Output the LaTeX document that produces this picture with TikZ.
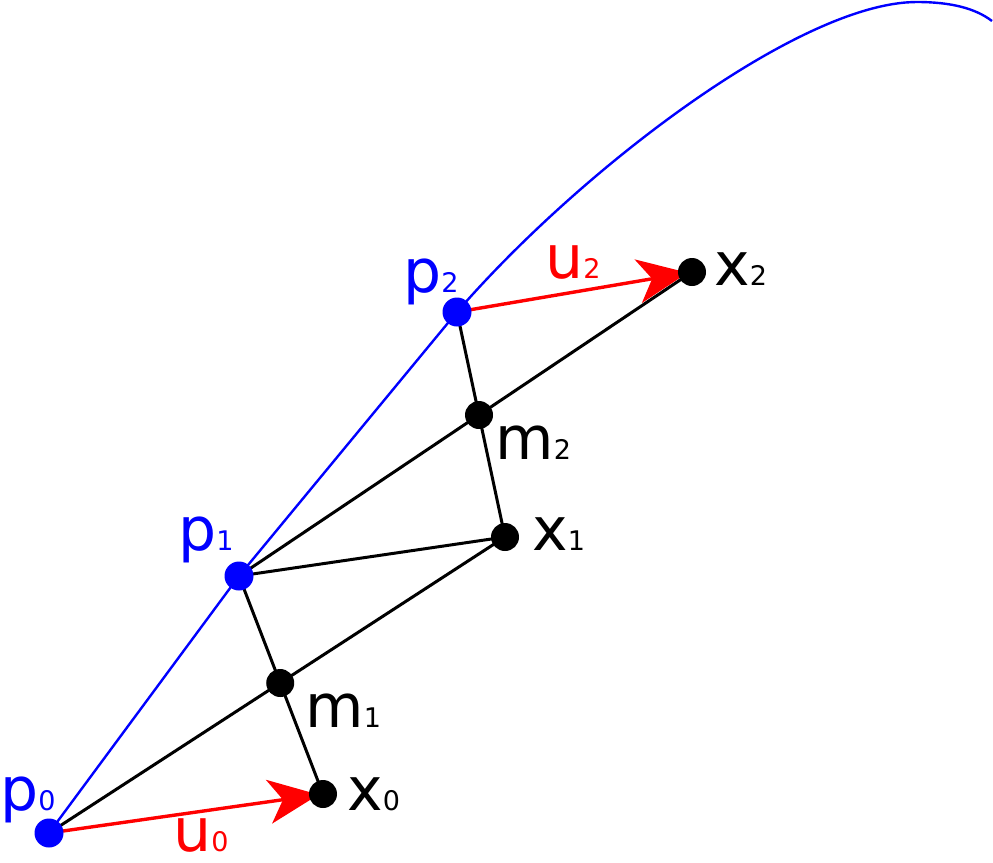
\documentclass[tikz,border=0pt]{standalone}
\usepackage{fontspec}
\setmainfont{DejaVu Sans}
\usetikzlibrary{arrows.meta, backgrounds}
\newcommand{\labidx}[1]{{\fontsize{13.5}{13.5}\selectfont #1}}

\begin{document}
\begin{tikzpicture}[x=0.5pt, y=-0.5pt,
  pdot/.style={circle, fill=blue, inner sep=0pt, minimum size=14.5pt},
  xdot/.style={circle, fill=black, inner sep=0pt, minimum size=14pt},
  lbl/.style={anchor=base west, inner sep=0pt, font=\fontsize{30}{30}\selectfont},
  seg/.style={black, line width=1.5pt},
  uarr/.style={red, line width=1.7pt, shorten >=-5pt,
    -{Stealth[length=25pt, width=22pt, inset=7pt]}},
  traj/.style={blue, line width=1.2pt}]
\useasboundingbox (0,0) rectangle (993,863);

% points on the trajectory and the targets
\node[pdot] (p0) at (49,833) {};
\node[pdot] (p1) at (239,576) {};
\node[pdot] (p2) at (457,312) {};
\node[xdot] (x0) at (323,794) {};
\node[xdot] (x1) at (505,537) {};
\node[xdot] (x2) at (692,272) {};
\node[xdot] (m1) at (intersection of p0.center--x1.center and p1.center--x0.center) {};
\node[xdot] (m2) at (intersection of p1.center--x2.center and p2.center--x1.center) {};

% labels
\node[lbl, text=blue] (lp0) at (0,810) {p\labidx{0}};
\node[lbl, text=blue] (lp1) at (178,550) {p\labidx{1}};
\node[lbl, text=blue] (lp2) at (403,292) {p\labidx{2}};
\node[lbl, text=red] (lu0) at (173,851) {u\labidx{0}};
\node[lbl, text=red] (lu2) at (545,278) {u\labidx{2}};
\node[lbl] (lx0) at (347,810) {x\labidx{0}};
\node[lbl] (lx1) at (532,550) {x\labidx{1}};
\node[lbl] (lx2) at (714,285) {x\labidx{2}};
\node[lbl] (lm1) at (305,727) {m\labidx{1}};
\node[lbl] (lm2) at (495,459) {m\labidx{2}};

\begin{scope}[on background layer]
  \draw[traj] (p0.center) -- (p1.center) -- (p2.center)
    .. controls (580,170) and (800,2) .. (917,2)
    .. controls (950,2) and (975,8) .. (992,21);
  \draw[seg] (p0.center) -- (x1.center);
  \draw[seg] (p1.center) -- (x0.center);
  \draw[seg] (p1.center) -- (x1.center);
  \draw[seg] (p1.center) -- (x2.center);
  \draw[seg] (p2.center) -- (x1.center);
  \draw[uarr] (p0.center) -- (x0);
  \draw[uarr] (p2.center) -- (x2);
\end{scope}
\end{tikzpicture}
\end{document}
